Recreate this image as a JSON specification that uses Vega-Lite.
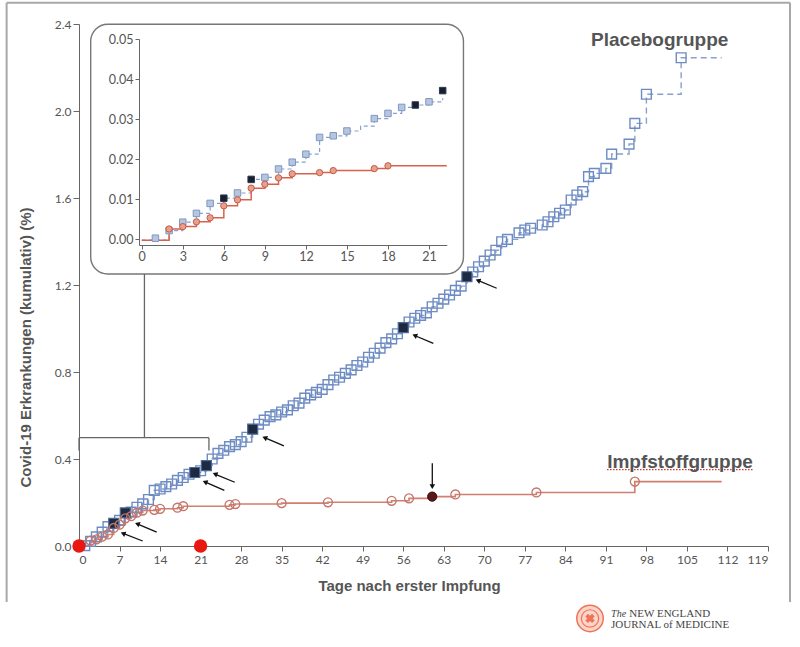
{
  "$schema": "https://vega.github.io/schema/vega-lite/v6.json",
  "width": 689,
  "height": 522,
  "autosize": "none",
  "padding": {"left": 79, "top": 24, "right": 32, "bottom": 101},
  "background": "white",
  "config": {"view": {"stroke": null}, "font": "Lato"},
  "datasets": {
    "pl": [
      {"day": 0, "val": 0, "k": "n"},
      {"day": 1, "val": 0.002, "k": "o"},
      {"day": 2, "val": 0.021, "k": "o"},
      {"day": 3, "val": 0.042, "k": "o"},
      {"day": 4, "val": 0.064, "k": "o"},
      {"day": 5, "val": 0.089, "k": "o"},
      {"day": 6, "val": 0.104, "k": "d"},
      {"day": 7, "val": 0.118, "k": "o"},
      {"day": 8, "val": 0.152, "k": "d"},
      {"day": 9, "val": 0.156, "k": "o"},
      {"day": 10, "val": 0.178, "k": "o"},
      {"day": 11, "val": 0.194, "k": "o"},
      {"day": 12, "val": 0.214, "k": "o"},
      {"day": 13, "val": 0.256, "k": "o"},
      {"day": 14, "val": 0.262, "k": "o"},
      {"day": 15, "val": 0.273, "k": "o"},
      {"day": 16, "val": 0.285, "k": "o"},
      {"day": 17, "val": 0.302, "k": "o"},
      {"day": 18, "val": 0.315, "k": "o"},
      {"day": 19, "val": 0.33, "k": "o"},
      {"day": 20, "val": 0.338, "k": "d"},
      {"day": 21, "val": 0.346, "k": "o"},
      {"day": 22, "val": 0.37, "k": "d"},
      {"day": 23, "val": 0.4, "k": "o"},
      {"day": 24, "val": 0.426, "k": "o"},
      {"day": 25, "val": 0.44, "k": "o"},
      {"day": 26, "val": 0.457, "k": "o"},
      {"day": 27, "val": 0.466, "k": "o"},
      {"day": 28, "val": 0.48, "k": "o"},
      {"day": 29, "val": 0.5, "k": "o"},
      {"day": 30, "val": 0.537, "k": "d"},
      {"day": 31, "val": 0.56, "k": "o"},
      {"day": 32, "val": 0.579, "k": "o"},
      {"day": 33, "val": 0.595, "k": "o"},
      {"day": 34, "val": 0.603, "k": "o"},
      {"day": 35, "val": 0.616, "k": "o"},
      {"day": 36, "val": 0.626, "k": "o"},
      {"day": 37, "val": 0.645, "k": "o"},
      {"day": 38, "val": 0.657, "k": "o"},
      {"day": 39, "val": 0.68, "k": "o"},
      {"day": 40, "val": 0.695, "k": "o"},
      {"day": 41, "val": 0.706, "k": "o"},
      {"day": 42, "val": 0.72, "k": "o"},
      {"day": 43, "val": 0.742, "k": "o"},
      {"day": 44, "val": 0.763, "k": "o"},
      {"day": 45, "val": 0.776, "k": "o"},
      {"day": 46, "val": 0.794, "k": "o"},
      {"day": 47, "val": 0.81, "k": "o"},
      {"day": 48, "val": 0.83, "k": "o"},
      {"day": 49, "val": 0.846, "k": "o"},
      {"day": 50, "val": 0.868, "k": "o"},
      {"day": 51, "val": 0.886, "k": "o"},
      {"day": 52, "val": 0.91, "k": "o"},
      {"day": 53, "val": 0.935, "k": "o"},
      {"day": 54, "val": 0.952, "k": "o"},
      {"day": 55, "val": 0.976, "k": "o"},
      {"day": 56, "val": 1.004, "k": "d"},
      {"day": 57, "val": 1.03, "k": "o"},
      {"day": 58, "val": 1.047, "k": "o"},
      {"day": 59, "val": 1.06, "k": "o"},
      {"day": 60, "val": 1.072, "k": "o"},
      {"day": 61, "val": 1.1, "k": "o"},
      {"day": 62, "val": 1.116, "k": "o"},
      {"day": 63, "val": 1.135, "k": "o"},
      {"day": 64, "val": 1.154, "k": "o"},
      {"day": 65, "val": 1.175, "k": "o"},
      {"day": 66, "val": 1.195, "k": "o"},
      {"day": 67, "val": 1.238, "k": "d"},
      {"day": 68, "val": 1.26, "k": "o"},
      {"day": 69, "val": 1.284, "k": "o"},
      {"day": 70, "val": 1.31, "k": "o"},
      {"day": 71, "val": 1.338, "k": "o"},
      {"day": 72, "val": 1.36, "k": "o"},
      {"day": 73, "val": 1.399, "k": "o"},
      {"day": 74, "val": 1.41, "k": "o"},
      {"day": 76, "val": 1.44, "k": "o"},
      {"day": 77, "val": 1.453, "k": "o"},
      {"day": 78, "val": 1.461, "k": "o"},
      {"day": 80, "val": 1.476, "k": "o"},
      {"day": 81, "val": 1.491, "k": "o"},
      {"day": 82, "val": 1.514, "k": "o"},
      {"day": 83, "val": 1.53, "k": "o"},
      {"day": 84, "val": 1.545, "k": "o"},
      {"day": 85, "val": 1.591, "k": "o"},
      {"day": 86, "val": 1.614, "k": "o"},
      {"day": 87, "val": 1.629, "k": "o"},
      {"day": 88, "val": 1.698, "k": "o"},
      {"day": 89, "val": 1.713, "k": "o"},
      {"day": 91, "val": 1.736, "k": "o"},
      {"day": 92, "val": 1.802, "k": "o"},
      {"day": 95, "val": 1.848, "k": "o"},
      {"day": 96, "val": 1.943, "k": "o"},
      {"day": 98, "val": 2.077, "k": "o"},
      {"day": 104, "val": 2.245, "k": "o"},
      {"day": 111, "val": 2.245, "k": "n"}
    ],
    "va": [
      {"day": 0, "val": 0, "k": "n"},
      {"day": 2, "val": 0.025, "k": "o"},
      {"day": 3, "val": 0.031, "k": "o"},
      {"day": 4, "val": 0.043, "k": "o"},
      {"day": 5, "val": 0.053, "k": "o"},
      {"day": 6, "val": 0.083, "k": "o"},
      {"day": 7, "val": 0.098, "k": "o"},
      {"day": 8, "val": 0.127, "k": "o"},
      {"day": 9, "val": 0.137, "k": "o"},
      {"day": 10, "val": 0.153, "k": "o"},
      {"day": 11, "val": 0.163, "k": "o"},
      {"day": 13, "val": 0.166, "k": "o"},
      {"day": 14, "val": 0.171, "k": "o"},
      {"day": 17, "val": 0.176, "k": "o"},
      {"day": 18, "val": 0.183, "k": "o"},
      {"day": 26, "val": 0.189, "k": "o"},
      {"day": 27, "val": 0.193, "k": "o"},
      {"day": 35, "val": 0.197, "k": "o"},
      {"day": 43, "val": 0.201, "k": "o"},
      {"day": 54, "val": 0.208, "k": "o"},
      {"day": 57, "val": 0.219, "k": "o"},
      {"day": 61, "val": 0.227, "k": "d"},
      {"day": 65, "val": 0.237, "k": "o"},
      {"day": 79, "val": 0.246, "k": "o"},
      {"day": 96, "val": 0.296, "k": "o"},
      {"day": 111, "val": 0.296, "k": "n"}
    ],
    "ipl": [
      {"day": 0, "val": -0.0003, "k": "n"},
      {"day": 1, "val": 0.0002, "k": "p"},
      {"day": 2, "val": 0.0021, "k": "o"},
      {"day": 3, "val": 0.0042, "k": "o"},
      {"day": 4, "val": 0.0064, "k": "o"},
      {"day": 5, "val": 0.0089, "k": "o"},
      {"day": 6, "val": 0.0102, "k": "d"},
      {"day": 7, "val": 0.0115, "k": "o"},
      {"day": 8, "val": 0.0149, "k": "d"},
      {"day": 9, "val": 0.0154, "k": "o"},
      {"day": 10, "val": 0.0175, "k": "o"},
      {"day": 11, "val": 0.0192, "k": "o"},
      {"day": 12, "val": 0.0212, "k": "o"},
      {"day": 13, "val": 0.0254, "k": "o"},
      {"day": 14, "val": 0.0258, "k": "o"},
      {"day": 15, "val": 0.027, "k": "o"},
      {"day": 16, "val": 0.0282, "k": "n"},
      {"day": 17, "val": 0.0301, "k": "o"},
      {"day": 18, "val": 0.0314, "k": "o"},
      {"day": 19, "val": 0.0329, "k": "o"},
      {"day": 20, "val": 0.0335, "k": "d"},
      {"day": 21, "val": 0.0343, "k": "o"},
      {"day": 22, "val": 0.0352, "k": "n"},
      {"day": 22, "val": 0.0371, "k": "dp"}
    ],
    "iva": [
      {"day": 0, "val": -0.0003, "k": "n"},
      {"day": 2, "val": 0.0025, "k": "o"},
      {"day": 3, "val": 0.0031, "k": "o"},
      {"day": 4, "val": 0.0043, "k": "o"},
      {"day": 5, "val": 0.0053, "k": "o"},
      {"day": 6, "val": 0.0083, "k": "o"},
      {"day": 7, "val": 0.0098, "k": "o"},
      {"day": 8, "val": 0.0127, "k": "o"},
      {"day": 9, "val": 0.0137, "k": "o"},
      {"day": 10, "val": 0.0153, "k": "o"},
      {"day": 11, "val": 0.0163, "k": "o"},
      {"day": 13, "val": 0.0166, "k": "o"},
      {"day": 14, "val": 0.0171, "k": "o"},
      {"day": 17, "val": 0.0176, "k": "o"},
      {"day": 18, "val": 0.0183, "k": "o"},
      {"day": 22.3, "val": 0.0183, "k": "n"}
    ],
    "seg": [
      {"day": -12.5, "val": -0.258, "day2": -12.5, "val2": 2.498, "g": "frame"},
      {"day": -12.5, "val": 2.498, "day2": 122.8, "val2": 2.498, "g": "frame"},
      {"day": 122.8, "val": 2.498, "day2": 122.8, "val2": -0.258, "g": "frame"},
      {"day": 0, "val": 0.498, "day2": 22.44, "val2": 0.498, "g": "br"},
      {"day": 0, "val": 0.439, "day2": 0, "val2": 0.498, "g": "br"},
      {"day": 22.44, "val": 0.439, "day2": 22.44, "val2": 0.498, "g": "br"},
      {"day": 11.3, "val": 0.498, "day2": 11.3, "val2": 1.2506, "g": "br"},
      {"day": 11.0, "val": 0.023, "day2": 7.5, "val2": 0.059, "g": "arr"},
      {"day": 13.42, "val": 0.064, "day2": 9.95, "val2": 0.103, "g": "arr"},
      {"day": 25.1, "val": 0.256, "day2": 21.64, "val2": 0.296, "g": "arr"},
      {"day": 26.9, "val": 0.293, "day2": 23.37, "val2": 0.332, "g": "arr"},
      {"day": 35.4, "val": 0.46, "day2": 31.95, "val2": 0.499, "g": "arr"},
      {"day": 61.2, "val": 0.932, "day2": 57.86, "val2": 0.969, "g": "arr"},
      {"day": 72.14, "val": 1.185, "day2": 68.79, "val2": 1.222, "g": "arr"},
      {"day": 61.02, "val": 0.38, "day2": 61.02, "val2": 0.27, "g": "arr"},
      {"day": 91.2, "val": 0.351, "day2": 116.4, "val2": 0.351, "g": "ul"}
    ],
    "box": [{"day": 2.02, "val": 2.399, "day2": 66.4, "val2": 1.2506}],
    "ah": [
      {"day": 7.6, "val": 0.058, "g": "l"},
      {"day": 10.07, "val": 0.102, "g": "l"},
      {"day": 21.76, "val": 0.295, "g": "l"},
      {"day": 23.49, "val": 0.331, "g": "l"},
      {"day": 32.07, "val": 0.498, "g": "l"},
      {"day": 57.98, "val": 0.968, "g": "l"},
      {"day": 68.91, "val": 1.221, "g": "l"},
      {"day": 61.02, "val": 0.273, "g": "d"}
    ],
    "dots": [{"day": 0, "val": 0}, {"day": 21, "val": 0}],
    "lbl": [
      {"day": 100.3, "val": 2.299, "t": "Placebogruppe"},
      {"day": 103.8, "val": 0.3586, "t": "Impfstoffgruppe"}
    ],
    "logo": [
      {"day": 88.26, "val": -0.333, "t": "seal"},
      {"day": 91.9, "val": -0.326, "t": "The"},
      {"day": 95.05, "val": -0.326, "t": "NEW ENGLAND"},
      {"day": 91.9, "val": -0.377, "t": "JOURNAL of MEDICINE"}
    ]
  },
  "layer": [
    {
      "encoding": {
        "x": {"field": "day", "type": "quantitative",
          "scale": {"domain": [0, 119], "nice": false, "zero": false},
          "axis": {"values": [0, 7, 14, 21, 28, 35, 42, 49, 56, 63, 70, 77, 84, 91, 98, 105, 112, 119],
            "title": "Tage nach erster Impfung", "grid": false,
            "domainColor": "#666", "tickColor": "#666", "tickSize": 5, "labelPadding": 3,
            "labelColor": "#555", "labelFont": "Lato", "labelFontSize": 12,
            "titleFont": "Liberation Sans", "titleFontWeight": "bold", "titleFontSize": 15, "titleColor": "#555",
            "titleX": 330, "titleY": 44, "titleBaseline": "alphabetic", "titleAnchor": null}},
        "y": {"field": "val", "type": "quantitative",
          "scale": {"domain": [0, 2.4], "nice": false, "zero": false},
          "axis": {"values": [0, 0.4, 0.8, 1.2, 1.6, 2.0, 2.4], "format": ".1f",
            "title": "Covid-19 Erkrankungen (kumulativ) (%)", "grid": false,
            "domainColor": "#666", "tickColor": "#666", "tickSize": 6, "labelPadding": 2,
            "labelColor": "#555", "labelFont": "Lato", "labelFontSize": 12,
            "titleFont": "Liberation Sans", "titleFontWeight": "bold", "titleFontSize": 15, "titleColor": "#555",
            "titleX": -46, "titleY": 323, "titleBaseline": "bottom", "titleAngle": -90}}
      },
      "layer": [
        {"data": {"name": "seg"}, "transform": [{"filter": "datum.g == 'frame'"}],
          "mark": {"type": "rule", "color": "#a8a8a8", "strokeWidth": 2},
          "encoding": {"x2": {"field": "day2"}, "y2": {"field": "val2"}}},
        {"data": {"name": "box"},
          "mark": {"type": "rect", "cornerRadius": 17, "stroke": "#777", "strokeWidth": 1.4, "fill": "white", "fillOpacity": 0},
          "encoding": {"x2": {"field": "day2"}, "y2": {"field": "val2"}}},
        {"data": {"name": "seg"}, "transform": [{"filter": "datum.g == 'br'"}],
          "mark": {"type": "rule", "color": "#666", "strokeWidth": 1.3},
          "encoding": {"x2": {"field": "day2"}, "y2": {"field": "val2"}}},
        {"data": {"name": "pl"},
          "mark": {"type": "line", "interpolate": "step-after", "color": "#88a0cc", "strokeWidth": 1.4, "strokeDash": [6, 4]}},
        {"data": {"name": "va"},
          "mark": {"type": "line", "interpolate": "step-after", "color": "#d27e70", "strokeWidth": 1.6}},
        {"data": {"name": "pl"}, "transform": [{"filter": "datum.k == 'o'"}],
          "mark": {"type": "point", "shape": "square", "size": 95, "filled": false, "color": "#6d8cc4", "strokeWidth": 1.4, "opacity": 1}},
        {"data": {"name": "pl"}, "transform": [{"filter": "datum.k == 'd'"}],
          "mark": {"type": "point", "shape": "square", "size": 100, "filled": true, "fill": "#1e2a40", "stroke": "#4a6898", "strokeWidth": 1.2, "opacity": 1}},
        {"data": {"name": "va"}, "transform": [{"filter": "datum.k == 'o'"}],
          "mark": {"type": "point", "shape": "circle", "size": 80, "filled": false, "color": "#c4756a", "strokeWidth": 1.3, "opacity": 1}},
        {"data": {"name": "va"}, "transform": [{"filter": "datum.k == 'd'"}],
          "mark": {"type": "point", "shape": "circle", "size": 85, "filled": true, "fill": "#5b1818", "stroke": "#3a0f0f", "strokeWidth": 1, "opacity": 1}},
        {"data": {"name": "seg"}, "transform": [{"filter": "datum.g == 'arr'"}],
          "mark": {"type": "rule", "color": "#111", "strokeWidth": 1.3},
          "encoding": {"x2": {"field": "day2"}, "y2": {"field": "val2"}}},
        {"data": {"name": "ah"}, "transform": [{"filter": "datum.g == 'l'"}],
          "mark": {"type": "point", "shape": "triangle-up", "size": 32, "filled": true, "color": "#111", "angle": 292, "opacity": 1}},
        {"data": {"name": "ah"}, "transform": [{"filter": "datum.g == 'd'"}],
          "mark": {"type": "point", "shape": "triangle-up", "size": 32, "filled": true, "color": "#111", "angle": 180, "opacity": 1}},
        {"data": {"name": "dots"},
          "mark": {"type": "point", "shape": "circle", "size": 180, "filled": true, "color": "#e8170f", "opacity": 1}},
        {"data": {"name": "seg"}, "transform": [{"filter": "datum.g == 'ul'"}],
          "mark": {"type": "rule", "color": "#e03030", "strokeWidth": 1.2, "strokeDash": [1.5, 1.5]},
          "encoding": {"x2": {"field": "day2"}, "y2": {"field": "val2"}}},
        {"data": {"name": "lbl"},
          "mark": {"type": "text", "font": "Liberation Sans", "fontWeight": "bold", "fontSize": 19, "color": "#555", "align": "center", "baseline": "alphabetic"},
          "encoding": {"text": {"field": "t"}}},
        {"data": {"name": "logo"}, "transform": [{"filter": "datum.t == 'seal'"}],
          "mark": {"type": "point", "shape": "circle", "size": 700, "filled": true, "fill": "#fbd5c9", "stroke": "#ef7457", "strokeWidth": 1.5, "opacity": 1}},
        {"data": {"name": "logo"}, "transform": [{"filter": "datum.t == 'seal'"}],
          "mark": {"type": "point", "shape": "circle", "size": 300, "filled": false, "stroke": "#ef7457", "strokeWidth": 1.2, "opacity": 1}},
        {"data": {"name": "logo"}, "transform": [{"filter": "datum.t == 'seal'"}],
          "mark": {"type": "point", "shape": "cross", "size": 90, "filled": true, "fill": "#ef7457", "angle": 45, "opacity": 1}},
        {"data": {"name": "logo"}, "transform": [{"filter": "datum.t == 'The'"}],
          "mark": {"type": "text", "font": "Liberation Serif", "fontStyle": "italic", "fontSize": 10, "color": "#444", "align": "left", "baseline": "alphabetic"},
          "encoding": {"text": {"field": "t"}}},
        {"data": {"name": "logo"}, "transform": [{"filter": "datum.t != 'seal' && datum.t != 'The'"}],
          "mark": {"type": "text", "font": "Liberation Serif", "fontSize": 11, "color": "#444", "align": "left", "baseline": "alphabetic"},
          "encoding": {"text": {"field": "t"}}}
      ]
    },
    {
      "encoding": {
        "x": {"field": "day", "type": "quantitative",
          "scale": {"domain": [-0.2, 22.3], "range": [60, 367.8], "nice": false, "zero": false},
          "axis": {"orient": "bottom", "offset": -301, "values": [0, 3, 6, 9, 12, 15, 18, 21], "title": null, "grid": false,
            "domainColor": "#666", "tickColor": "#666", "tickSize": 4, "labelPadding": 1,
            "labelColor": "#555", "labelFont": "Lato", "labelFontSize": 12.5, "zindex": 1}},
        "y": {"field": "val", "type": "quantitative",
          "scale": {"domain": [-0.0015, 0.05], "range": [221, 15], "nice": false, "zero": false},
          "axis": {"orient": "left", "offset": -60, "values": [0, 0.01, 0.02, 0.03, 0.04, 0.05], "format": ".2f", "title": null, "grid": false,
            "domainColor": "#666", "tickColor": "#666", "tickSize": 4, "labelPadding": 2,
            "labelColor": "#555", "labelFont": "Lato", "labelFontSize": 12.5, "zindex": 1}}
      },
      "layer": [
        {"data": {"name": "ipl"}, "transform": [{"filter": "datum.k != 'p' && datum.k != 'dp'"}],
          "mark": {"type": "line", "interpolate": "step-after", "color": "#8aa0c8", "strokeWidth": 1.2, "strokeDash": [4, 3]}},
        {"data": {"name": "iva"},
          "mark": {"type": "line", "interpolate": "step-after", "color": "#d9614c", "strokeWidth": 1.5}},
        {"data": {"name": "ipl"}, "transform": [{"filter": "datum.k == 'o' || datum.k == 'p'"}],
          "mark": {"type": "point", "shape": "square", "size": 42, "filled": true, "fill": "#b7c6df", "stroke": "#7f97c2", "strokeWidth": 1, "opacity": 1}},
        {"data": {"name": "ipl"}, "transform": [{"filter": "datum.k == 'd' || datum.k == 'dp'"}],
          "mark": {"type": "point", "shape": "square", "size": 42, "filled": true, "fill": "#182030", "stroke": "#2a3650", "strokeWidth": 1, "opacity": 1}},
        {"data": {"name": "iva"}, "transform": [{"filter": "datum.k == 'o'"}],
          "mark": {"type": "point", "shape": "circle", "size": 40, "filled": true, "fill": "#e6a08e", "stroke": "#c65a46", "strokeWidth": 1, "opacity": 1}}
      ]
    }
  ],
  "resolve": {"scale": {"x": "independent", "y": "independent"}, "axis": {"x": "independent", "y": "independent"}}
}
